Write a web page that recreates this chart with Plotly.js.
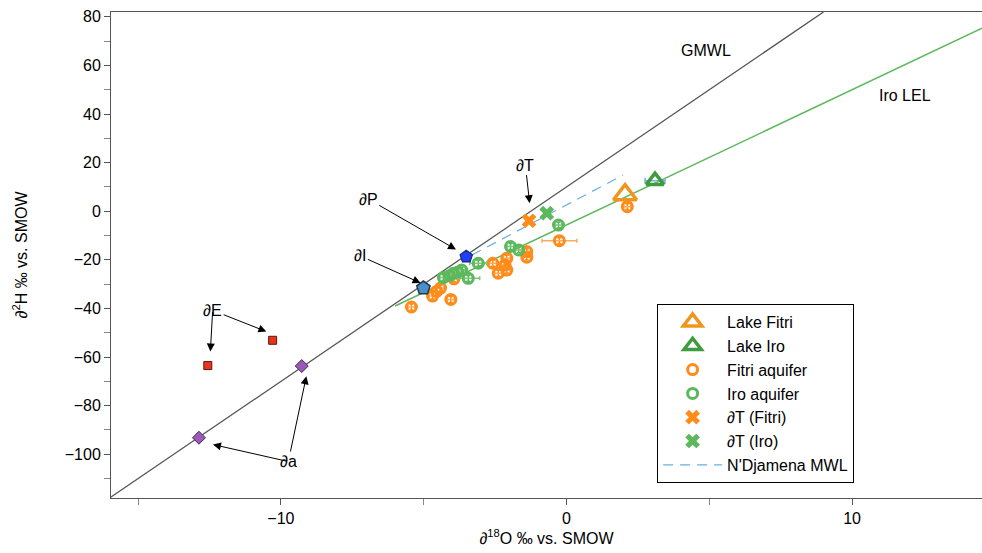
<!DOCTYPE html>
<html>
<head>
<meta charset="utf-8">
<script src="https://cdn.plot.ly/plotly-3.0.1.min.js"></script>
<style>html,body{margin:0;padding:0;background:#fff}#chart{width:982px;height:553px}</style>
</head>
<body>
<div id="chart"></div>
<script>
// Reference lines
var gmwlX = [-16, 9];
var gmwlY = [-118, 82];
var iroLelX = [-6, 14.55];
var iroLelY = [-39, 75.3];
var ndjX = [-3.31, 1.98];
var ndjY = [-18.0, 14.9];

// Lakes
var lakeFitriX = [2.05];
var lakeFitriY = [6.8];
var lakeIroX = [3.1];
var lakeIroY = [12.6];
var lakeIroErrX = [0.35];

// Aquifers
var fitriAqX = [-5.43, -4.05, -4.69, -4.55, -4.41, -3.94, -2.58, -2.39, -2.15, -2.09, -2.09, -1.39, -1.39, -0.25, 2.13];
var fitriAqY = [-39.4, -36.3, -34.9, -33.0, -31.6, -27.8, -21.4, -25.5, -22.1, -24.2, -19.3, -16.6, -18.9, -12.1, 1.9];
var fitriAqErrX = [0.12, 0.12, 0.12, 0.12, 0.12, 0.12, 0.12, 0.12, 0.12, 0.12, 0.12, 0.12, 0.12, 0.61, 0.12];
var iroAqX = [-4.31, -4.1, -3.96, -3.8, -3.67, -3.44, -3.09, -1.96, -1.67, -0.28];
var iroAqY = [-27.3, -26.5, -25.5, -25.0, -24.2, -27.6, -21.4, -14.5, -15.9, -5.7];
var iroAqErrX = [0.12, 0.12, 0.12, 0.12, 0.12, 0.4, 0.3, 0.12, 0.12, 0.12];

// Throughflow
var tFitriX = [-1.31];
var tFitriY = [-3.9];
var tIroX = [-0.69];
var tIroY = [-0.8];

// End members
var pX = [-3.51], pY = [-18.7];
var iX = [-5.01], iY = [-31.6];
var eX = [-12.56, -10.29], eY = [-63.5, -53.1];
var aX = [-12.87, -9.27], aY = [-93.2, -63.7];

var FONT = "Arial, 'Liberation Sans', sans-serif";
var orange = "#ff8c1a", green = "#5cb85c";

function errY(n, col) {
  var a = []; for (var i = 0; i < n; i++) a.push(1.2);
  return {type: 'data', array: a, color: col, thickness: 1.5, width: 2};
}

var traces = [
  {x: gmwlX, y: gmwlY, mode: 'lines', line: {color: '#555', width: 1.3}, showlegend: false, hoverinfo: 'skip'},
  {x: iroLelX, y: iroLelY, mode: 'lines', line: {color: green, width: 1.5}, showlegend: false, hoverinfo: 'skip'},
  {x: fitriAqX, y: fitriAqY, mode: 'markers', name: 'Fitri aquifer', legendrank: 3,
    marker: {symbol: 'circle-open', size: 10, color: orange, line: {width: 3, color: orange}},
    error_x: {type: 'data', array: fitriAqErrX, color: '#ffab5e', thickness: 1.5, width: 2},
    error_y: errY(fitriAqX.length, orange)},
  {x: iroAqX, y: iroAqY, mode: 'markers', name: 'Iro aquifer', legendrank: 4,
    marker: {symbol: 'circle-open', size: 10, color: green, line: {width: 3, color: green}},
    error_x: {type: 'data', array: iroAqErrX, color: '#7cc87c', thickness: 1.5, width: 2},
    error_y: errY(iroAqX.length, green)},
  {x: ndjX, y: ndjY, mode: 'lines', name: "N'Djamena MWL", legendrank: 7,
    line: {color: '#6aaee0', width: 1.2, dash: '10px,7px'}},
  {x: lakeFitriX, y: lakeFitriY, mode: 'markers', name: 'Lake Fitri', legendrank: 1,
    marker: {symbol: 'triangle-up-open', size: 20, color: '#f0961e', line: {width: 3.5, color: '#f0961e'}}},
  {x: lakeIroX, y: lakeIroY, mode: 'markers', name: 'Lake Iro', legendrank: 2,
    error_x: {type: 'data', array: lakeIroErrX, color: '#7ab0d8', thickness: 1.5, width: 3},
    marker: {symbol: 'triangle-up-open', size: 15, color: '#3f9b3f', line: {width: 3.5, color: '#3f9b3f'}}},
  {x: tFitriX, y: tFitriY, mode: 'markers', name: '∂T (Fitri)', legendrank: 5,
    marker: {symbol: 'x', size: 13, color: orange, line: {width: 0}}},
  {x: tIroX, y: tIroY, mode: 'markers', name: '∂T (Iro)', legendrank: 6,
    marker: {symbol: 'x', size: 13, color: green, line: {width: 0}}},
  {x: pX, y: pY, mode: 'markers', showlegend: false,
    marker: {symbol: 'pentagon', size: 13, color: '#1f3fff', line: {width: 1.2, color: '#1a2a6a'}}},
  {x: iX, y: iY, mode: 'markers', showlegend: false,
    marker: {symbol: 'pentagon', size: 14, color: '#4a8fc8', line: {width: 1.5, color: '#1e3a50'}}},
  {x: eX, y: eY, mode: 'markers', showlegend: false,
    marker: {symbol: 'square', size: 8, color: '#e8341c', line: {width: 1, color: '#5a1a10'}}},
  {x: aX, y: aY, mode: 'markers', showlegend: false,
    marker: {symbol: 'diamond', size: 10, color: '#9b59b6', line: {width: 1, color: '#4a2a5a'}}}
];

function arr(x, y, ax, ay, txt) {
  return {x: x, y: y, ax: ax, ay: ay, axref: 'x', ayref: 'y', xref: 'x', yref: 'y',
    text: txt, showarrow: true, arrowhead: 2, arrowsize: 1.6, arrowwidth: 1, arrowcolor: '#000',
    font: {family: FONT, size: 16, color: '#000'}};
}

var annotations = [
  {x: 4.87, y: 66.3, xref: 'x', yref: 'y', text: 'GMWL', showarrow: false, font: {family: FONT, size: 16, color: '#000'}},
  {x: 11.87, y: 47.8, xref: 'x', yref: 'y', text: 'Iro LEL', showarrow: false, font: {family: FONT, size: 16, color: '#000'}},
  arr(-1.29, 3.3, -1.44, 19.0, '∂T'),
  arr(-3.87, -15.7, -6.94, 5.0, '∂P'),
  arr(-5.11, -29.5, -7.22, -18.4, '∂I'),
  arr(-10.51, -49.5, -12.39, -40.8, '∂E'),
  arr(-12.47, -57.7, -12.39, -40.8, ''),
  arr(-9.11, -67.9, -9.74, -103.0, '∂a'),
  arr(-12.38, -96.0, -9.74, -103.0, '')
];

var layout = {
  width: 982, height: 553,
  margin: {l: 111, r: 0, t: 12, b: 55},
  paper_bgcolor: '#fff', plot_bgcolor: '#fff',
  font: {family: FONT, size: 16, color: '#000'},
  showlegend: true,
  legend: {x: 0.627, y: 0.399, xanchor: 'left', yanchor: 'top',
    bordercolor: '#000', borderwidth: 1, bgcolor: '#fff',
    font: {family: FONT, size: 16, color: '#000'},
    itemwidth: 59, entrywidth: 300, entrywidthmode: 'pixels', traceorder: 'normal'},
  xaxis: {range: [-15.95, 14.55], dtick: 10, tick0: 0, ticks: 'outside', ticklen: 6, tickcolor: '#555',
    showline: true, linecolor: '#555', linewidth: 1, mirror: true, showgrid: false, zeroline: false,
    minor: {dtick: 5, tick0: 0, ticks: 'outside', ticklen: 6, tickcolor: '#888', showgrid: false},
    tickfont: {family: FONT, size: 16, color: '#000'},
    title: {text: '∂<sup>18</sup>O ‰ vs. SMOW', font: {family: FONT, size: 16, color: '#000'}, standoff: 6}},
  yaxis: {range: [-118, 82], dtick: 20, tick0: 0, ticks: 'outside', ticklen: 6, tickcolor: '#555',
    showline: true, linecolor: '#555', linewidth: 1, showgrid: false, zeroline: false,
    minor: {dtick: 10, tick0: 0, ticks: 'outside', ticklen: 6, tickcolor: '#888', showgrid: false},
    tickfont: {family: FONT, size: 16, color: '#000'},
    title: {text: '∂<sup>2</sup>H ‰ vs. SMOW', font: {family: FONT, size: 16, color: '#000'}, standoff: 33}},
  annotations: annotations
};

Plotly.newPlot('chart', traces, layout, {displayModeBar: false, staticPlot: true});
</script>
</body>
</html>
